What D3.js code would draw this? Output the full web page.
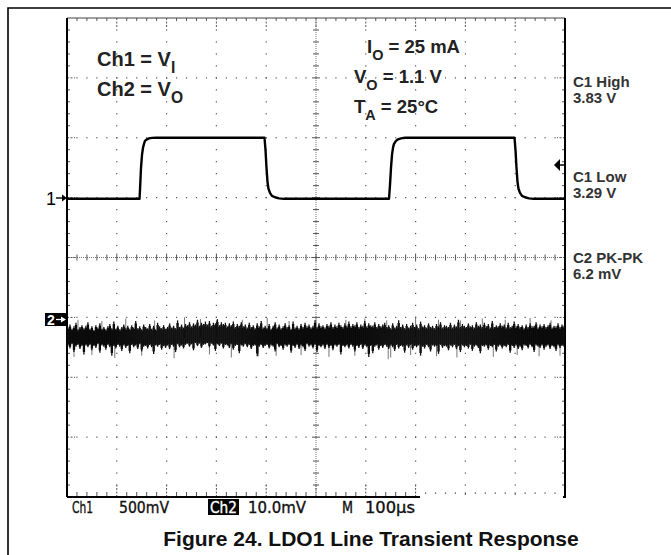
<!DOCTYPE html>
<html>
<head>
<meta charset="utf-8">
<script src="https://cdn.jsdelivr.net/npm/d3@7"></script>
<style>
  body { margin: 0; background: #fff; }
  svg { display: block; }
  text { font-family: "Liberation Sans", Arial, Helvetica, sans-serif; }
</style>
</head>
<body>
<svg id="chart"></svg>
<script>
// Ch1 = input step, time in µs, volts
const ch1Time = [0, 145.6, 146.6, 148.6, 150.6, 152.6, 154.6, 156.6, 160.6, 164.7, 170.7, 178.7,
  396.6, 398.6, 400.6, 402.6, 404.6, 407.6, 411.6, 417.7, 425.7, 435.7,
  646.6, 648.6, 650.6, 652.6, 654.6, 656.6, 660.6, 664.7, 670.7, 678.7,
  898.6, 900.6, 902.6, 904.6, 906.6, 909.6, 913.7, 919.7, 927.7, 937.7, 1000];
const ch1Volts = [3.29, 3.29, 3.365, 3.549, 3.657, 3.716, 3.749, 3.774, 3.787, 3.795, 3.799, 3.80,
  3.80, 3.699, 3.549, 3.432, 3.374, 3.340, 3.315, 3.303, 3.294, 3.29,
  3.29, 3.407, 3.549, 3.657, 3.716, 3.749, 3.774, 3.787, 3.795, 3.80,
  3.80, 3.699, 3.549, 3.432, 3.374, 3.340, 3.315, 3.303, 3.294, 3.29, 3.29];

// Ch2 = output ripple, peak-detect columns every 4 µs (mV about the mean)
const ch2Max = [
  1.7,2.2,1.5,1.9,2.5,1.4,1.8,2.1,1.6,2.0,
  2.6,1.5,1.9,1.3,2.1,1.7,2.4,1.5,1.8,1.4,
  1.9,2.3,1.6,2.7,1.5,2.0,1.4,1.8,2.2,1.6,
  2.0,1.5,2.1,1.7,2.8,1.6,1.9,1.4,2.2,1.8,
  1.6,2.3,1.5,2.0,1.4,2.5,1.9,1.6,2.1,1.5,
  1.8,2.4,1.7,2.0,1.6,2.9,1.8,2.2,1.7,2.3,
  2.1,2.6,1.9,2.4,2.2,3.0,2.0,2.5,2.3,2.7,
  2.2,2.8,2.0,2.5,2.4,3.1,2.1,2.6,2.3,2.5,
  1.9,2.4,2.1,2.7,1.8,2.3,2.0,2.6,1.9,2.2,
  1.7,2.5,1.8,2.1,1.6,2.4,1.9,2.8,1.7,2.0,
  1.6,2.3,1.5,2.0,2.6,1.7,2.2,1.6,1.9,2.4,
  1.8,2.1,1.5,2.7,1.7,2.0,1.6,2.3,1.8,2.5,
  1.9,2.2,1.7,2.0,2.9,1.8,2.4,1.9,2.1,1.7,
  2.3,2.0,2.6,1.8,2.2,1.9,2.5,2.1,1.8,2.4,
  2.0,2.7,1.9,2.3,2.1,2.6,1.8,2.2,2.0,2.8,
  1.9,2.4,2.1,2.0,2.6,1.8,2.3,1.9,2.2,2.5,
  1.8,2.1,1.6,2.4,1.7,2.0,2.9,1.8,2.2,1.6,
  2.3,1.7,2.0,2.5,1.8,2.2,1.6,2.7,1.9,2.1,
  1.7,2.4,1.8,2.0,1.6,2.3,1.9,2.6,1.7,2.1,
  2.0,1.8,2.5,1.7,2.2,1.9,3.0,1.8,2.3,2.0,
  1.8,2.4,1.9,2.1,1.7,2.6,2.0,2.2,1.8,2.5,
  1.9,2.3,1.7,2.8,1.8,2.1,1.9,2.4,2.0,2.2,
  1.7,2.5,1.8,2.0,2.7,1.9,2.3,1.8,2.1,1.6,
  2.2,1.8,2.4,1.9,2.0,2.6,1.7,2.2,1.9,2.3,
  1.8,2.1,2.5,1.7,2.0,1.9,2.4,1.8,2.2,2.0];
const ch2Min = [
  -1.3,-1.8,-1.1,-2.4,-1.5,-1.2,-1.9,-1.4,-2.8,-1.3,
  -1.6,-1.2,-2.1,-1.4,-1.7,-1.1,-2.5,-1.3,-1.5,-2.0,
  -1.2,-1.6,-3.0,-1.4,-1.8,-1.2,-1.5,-2.2,-1.3,-1.7,
  -1.4,-2.6,-1.2,-1.6,-1.3,-1.9,-1.1,-2.3,-1.5,-1.4,
  -1.8,-1.2,-1.6,-2.7,-1.3,-1.5,-1.2,-2.0,-1.4,-1.7,
  -1.3,-1.9,-1.2,-1.5,-2.4,-1.1,-1.6,-1.3,-1.8,-1.2,
  -1.0,-1.5,-1.1,-2.1,-0.9,-1.4,-1.0,-1.7,-1.2,-1.1,
  -0.9,-1.6,-1.0,-1.3,-2.2,-1.1,-1.4,-1.0,-1.8,-1.2,
  -1.3,-1.7,-1.1,-2.0,-1.4,-1.2,-2.6,-1.3,-1.5,-1.1,
  -1.6,-1.2,-1.9,-1.4,-1.3,-3.1,-1.5,-1.2,-1.7,-1.4,
  -1.2,-1.8,-1.3,-1.5,-2.3,-1.1,-1.6,-1.4,-2.0,-1.3,
  -1.5,-1.2,-2.5,-1.4,-1.7,-1.2,-1.9,-1.3,-1.6,-2.2,
  -1.1,-1.5,-1.3,-1.8,-1.2,-2.4,-1.4,-1.6,-1.3,-1.9,
  -1.2,-1.7,-1.4,-2.1,-1.3,-1.5,-1.2,-2.8,-1.4,-1.6,
  -1.3,-1.8,-1.2,-1.5,-2.3,-1.4,-1.7,-1.2,-1.9,-1.3,
  -1.6,-3.2,-1.4,-2.6,-1.5,-1.3,-2.0,-1.4,-1.7,-1.2,
  -1.5,-1.9,-1.3,-1.6,-2.2,-1.2,-1.8,-1.4,-1.5,-2.5,
  -1.3,-1.7,-1.2,-2.0,-1.4,-1.6,-1.3,-3.0,-1.5,-1.8,
  -1.2,-1.6,-2.3,-1.3,-1.5,-1.4,-2.7,-1.2,-1.7,-1.4,
  -1.5,-2.1,-1.3,-1.6,-1.2,-1.9,-1.4,-2.4,-1.3,-1.6,
  -1.4,-1.8,-1.2,-2.2,-1.5,-1.3,-1.7,-2.6,-1.4,-1.5,
  -1.3,-2.0,-1.4,-1.6,-1.2,-2.3,-1.5,-1.3,-1.8,-1.4,
  -1.6,-1.2,-2.5,-1.4,-1.7,-1.3,-1.9,-1.5,-2.1,-1.3,
  -1.4,-1.8,-1.2,-1.6,-2.4,-1.3,-1.5,-1.7,-1.3,-2.0,
  -1.5,-1.3,-1.9,-1.4,-1.6,-2.2,-1.3,-1.7,-1.4,-1.5];
// thin outer spikes of the ripple (µs, mV)
const ch2SpikeTime = [14, 22, 50, 70, 96, 118, 150, 176, 215, 236, 268, 286, 300, 330, 352, 384, 402, 420,
  446, 470, 500, 526, 560, 578, 598, 642, 645, 650, 690, 700, 742, 746, 783, 790, 834, 856, 880, 904, 930, 948, 972, 990];
const ch2SpikeMv = [-3.2, 3.0, -2.9, 2.8, -3.4, 3.2, -3.0, 2.9, -3.4, 3.4, 3.1, -2.8, 2.9, -3.3, 3.0, -3.1, 3.3, -3.0,
  2.8, -2.9, 3.1, -3.2, 3.0, -3.0, 3.2, 2.9, -3.6, -3.3, -2.9, 3.3, -3.1, 3.0, -3.3, 2.9, 3.2, -3.2, 3.0, -2.9, 3.3, -3.1, 2.9, -3.0];

const readouts = [
  { label: "C1 High", value: "3.83 V" },
  { label: "C1 Low", value: "3.29 V" },
  { label: "C2 PK-PK", value: "6.2 mV" }
];
const statusItems = ["Ch1", "500mV", "Ch2", "10.0mV", "M", "100µs"];

const W = 671, H = 555;
const plot = { left: 67, right: 565, top: 18, bottom: 497 };
const labelStripEnd = 420;

const svg = d3.select("#chart").attr("width", W).attr("height", H);
svg.append("rect").attr("width", W).attr("height", H).attr("fill", "#fff");

// scales: 10 divisions x 100 µs, 8 divisions vertical
const x = d3.scaleLinear().domain([0, 1000]).range([plot.left, plot.right]);
const div = d3.scaleLinear().domain([0, 8]).range([plot.bottom, plot.top]);
const y1 = d3.scaleLinear().domain([0.80, 4.80]).range([plot.bottom, plot.top]);   // 500 mV/div
const y2 = d3.scaleLinear().domain([-26.6, 53.4]).range([plot.bottom, plot.top]);  // 10 mV/div

// outer figure frame (cropped at right/bottom)
svg.append("path").attr("d", `M8,${H} V8 H${W}`)
  .attr("fill", "none").attr("stroke", "#000").attr("stroke-width", 1.6);

const grid = svg.append("g");
const minorX = d3.range(20, 1000, 20);
const minorY = d3.range(0.2, 8, 0.2);
const isMajorX = t => Math.abs(t / 100 - Math.round(t / 100)) < 1e-6;
const isMajorY = v => Math.abs(v - Math.round(v)) < 1e-6;

// dotted graticule lines
[1, 2, 3, 5, 6, 7].forEach(k => {
  grid.selectAll(null).data(minorX).join("rect")
    .attr("x", d => x(d) - 0.6).attr("y", div(k) - 0.6)
    .attr("width", 1.2).attr("height", 1.2).attr("fill", "#555");
});
[100, 200, 300, 400, 600, 700, 800, 900].forEach(t => {
  grid.selectAll(null).data(minorY).join("rect")
    .attr("x", x(t) - 0.6).attr("y", d => div(d) - 0.6)
    .attr("width", 1.2).attr("height", 1.2).attr("fill", "#555");
});

// centre lines with ticks
grid.append("line").attr("x1", plot.left).attr("x2", plot.right).attr("y1", div(4)).attr("y2", div(4))
  .attr("stroke", "#777").attr("stroke-dasharray", "1,1");
grid.append("line").attr("x1", x(500)).attr("x2", x(500)).attr("y1", plot.top).attr("y2", plot.bottom)
  .attr("stroke", "#777").attr("stroke-dasharray", "1,1");
grid.selectAll(null).data(minorX).join("line")
  .attr("x1", d => x(d)).attr("x2", d => x(d))
  .attr("y1", d => div(4) - (isMajorX(d) ? 4 : 3)).attr("y2", d => div(4) + (isMajorX(d) ? 4 : 3))
  .attr("stroke", "#555");
grid.selectAll(null).data(minorY).join("line")
  .attr("y1", d => div(d)).attr("y2", d => div(d))
  .attr("x1", d => x(500) - (isMajorY(d) ? 4 : 3)).attr("x2", d => x(500) + (isMajorY(d) ? 4 : 3))
  .attr("stroke", "#555");

// edge ticks
grid.selectAll(null).data(minorX).join("line")
  .attr("x1", d => x(d)).attr("x2", d => x(d))
  .attr("y1", plot.top).attr("y2", d => plot.top + (isMajorX(d) ? 10 : 3))
  .attr("stroke", "#555").attr("stroke-dasharray", d => isMajorX(d) ? "2,1.5" : null);
// bottom edge: ticks above the label strip, plain dots beyond it
grid.selectAll(null).data(minorX.filter(d => x(d) < labelStripEnd)).join("line")
  .attr("x1", d => x(d)).attr("x2", d => x(d))
  .attr("y1", plot.bottom).attr("y2", d => plot.bottom - (isMajorX(d) ? 12 : 5))
  .attr("stroke", "#555").attr("stroke-dasharray", d => isMajorX(d) ? "2,1.5" : null);
grid.selectAll(null).data(minorX.filter(d => x(d) >= labelStripEnd)).join("rect")
  .attr("x", d => x(d) - 0.6).attr("y", plot.bottom - 4.6)
  .attr("width", 1.2).attr("height", d => isMajorX(d) ? 2.5 : 1.4).attr("fill", "#555");
grid.selectAll(null).data(minorY).join("line")
  .attr("y1", d => div(d)).attr("y2", d => div(d))
  .attr("x1", plot.left).attr("x2", d => plot.left + (isMajorY(d) ? 8 : 3))
  .attr("stroke", "#555").attr("stroke-dasharray", d => isMajorY(d) ? "2,1.5" : null);
grid.selectAll(null).data(minorY).join("line")
  .attr("y1", d => div(d)).attr("y2", d => div(d))
  .attr("x1", plot.right).attr("x2", d => plot.right - (isMajorY(d) ? 8 : 3))
  .attr("stroke", "#555").attr("stroke-dasharray", d => isMajorY(d) ? "2,1.5" : null);

// frame
svg.append("line").attr("x1", plot.left).attr("x2", plot.right).attr("y1", plot.top).attr("y2", plot.top)
  .attr("stroke", "#444").attr("stroke-width", 1.2);
svg.append("line").attr("x1", plot.left).attr("x2", plot.left).attr("y1", plot.top).attr("y2", plot.bottom)
  .attr("stroke", "#000").attr("stroke-width", 2);
svg.append("path").attr("d", `M${plot.right},${plot.top} V${plot.bottom} h-2`)
  .attr("fill", "none").attr("stroke", "#000").attr("stroke-width", 2);
svg.append("line").attr("x1", plot.left).attr("x2", labelStripEnd).attr("y1", plot.bottom).attr("y2", plot.bottom)
  .attr("stroke", "#000").attr("stroke-width", 1.8);

// Ch2 ripple: faint outer spikes, dense core, then fine peak lines
const ch2 = svg.append("g");
const colT = (d, i) => x(i * 4 + 2);
ch2.selectAll(null).data(ch2SpikeTime).join("line")
  .attr("x1", d => x(d)).attr("x2", d => x(d))
  .attr("y1", y2(0)).attr("y2", (d, i) => y2(ch2SpikeMv[i]))
  .attr("stroke", "#777").attr("stroke-width", 1);
ch2.selectAll(null).data(ch2Max).join("line")
  .attr("x1", colT).attr("x2", colT)
  .attr("y1", d => y2(d * 0.85)).attr("y2", (d, i) => y2(ch2Min[i] * 0.85))
  .attr("stroke", "#000").attr("stroke-width", 2.3);
ch2.selectAll(null).data(ch2Max).join("line")
  .attr("x1", colT).attr("x2", colT)
  .attr("y1", d => y2(d)).attr("y2", (d, i) => y2(ch2Min[i]))
  .attr("stroke", "#111").attr("stroke-width", 1.3);

// Ch1 step
const line1 = d3.line().x(d => x(d[0])).y(d => y1(d[1]));
svg.append("path")
  .datum(d3.zip(ch1Time, ch1Volts))
  .attr("d", line1)
  .attr("fill", "none").attr("stroke", "#000").attr("stroke-width", 2.4)
  .attr("stroke-linejoin", "round");

// channel markers
svg.append("text").attr("x", 46).attr("y", 204.5).attr("font-size", 18).text("1");
svg.append("path").attr("d", "M56,198 H63").attr("stroke", "#000").attr("stroke-width", 1.4);
svg.append("path").attr("d", "M62,194.5 L67,198 L62,201.5 Z").attr("fill", "#000");
svg.append("rect").attr("x", 45).attr("y", 313).attr("width", 22).attr("height", 13).attr("fill", "#000");
svg.append("text").attr("x", 47).attr("y", 324.5).attr("font-size", 14).attr("font-weight", "bold")
  .attr("fill", "#fff").text("2");
svg.append("path").attr("d", "M56,319.5 H62").attr("stroke", "#fff").attr("stroke-width", 1.3);
svg.append("path").attr("d", "M61,316.5 L66,319.5 L61,322.5 Z").attr("fill", "#fff");

// trigger level arrow
svg.append("path").attr("d", "M554,165 L560,159 L560,171 Z").attr("fill", "#000");
svg.append("line").attr("x1", 560).attr("x2", plot.right).attr("y1", 165).attr("y2", 165)
  .attr("stroke", "#000").attr("stroke-width", 1.5);

// annotation text with subscripts
function subText(xp, yp, size, main, sub, rest) {
  const t = svg.append("text").attr("x", xp).attr("y", yp)
    .attr("font-size", size).attr("font-weight", "bold").attr("fill", "#222");
  t.append("tspan").text(main);
  t.append("tspan").attr("font-size", size * 0.78).attr("dy", 7).text(sub);
  if (rest) t.append("tspan").attr("dy", -7).text(rest);
}
subText(97, 66, 20, "Ch1 = V", "I", "");
subText(97, 96, 20, "Ch2 = V", "O", "");
subText(367, 53, 18.5, "I", "O", " = 25 mA");
subText(354, 83, 18.5, "V", "O", " = 1.1 V");
subText(354, 113, 18.5, "T", "A", " = 25°C");

// measurement readouts
const readY = [87, 182, 263];
readouts.forEach((r, i) => {
  const g = svg.append("text").attr("x", 573).attr("y", readY[i])
    .attr("font-size", 15).attr("font-weight", "bold").attr("fill", "#333");
  g.append("tspan").attr("x", 573).text(r.label);
  g.append("tspan").attr("x", 573).attr("dy", 15.5).text(r.value);
});

// scope status line
const narrow = '"Liberation Sans Narrow", "DejaVu Sans Condensed", "Liberation Sans", sans-serif';
const statusX = [72, 119, 210, 248, 342, 365];
const statusW = [21, 50, 27, 58, 11, 50];
svg.append("rect").attr("x", 208).attr("y", 499).attr("width", 31).attr("height", 16).attr("fill", "#000");
svg.selectAll(null).data(statusItems).join("text")
  .attr("x", (d, i) => statusX[i]).attr("y", 513).attr("font-size", 16.5)
  .style("font-family", narrow)
  .attr("fill", d => d === "Ch2" ? "#fff" : "#111")
  .attr("stroke", d => d === "Ch2" ? "#fff" : "#111").attr("stroke-width", 0.35)
  .attr("textLength", (d, i) => statusW[i]).attr("lengthAdjust", "spacingAndGlyphs")
  .text(d => d);

// caption
svg.append("text").attr("x", 371).attr("y", 546).attr("text-anchor", "middle")
  .attr("font-size", 21).attr("font-weight", "bold").attr("fill", "#111")
  .text("Figure 24. LDO1 Line Transient Response");
</script>
</body>
</html>
